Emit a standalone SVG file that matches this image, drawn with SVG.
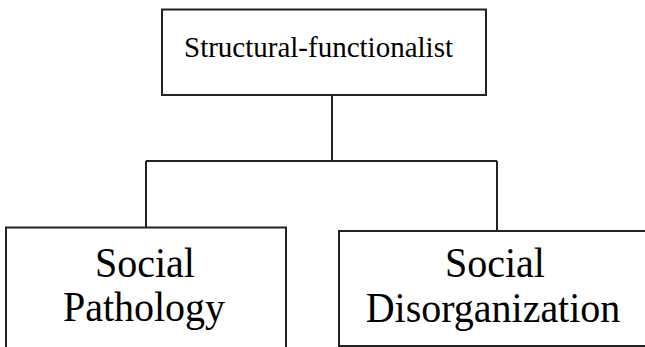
<svg xmlns="http://www.w3.org/2000/svg" width="645" height="347" viewBox="0 0 645 347">
<style>
.box{fill:#fff;stroke:#222;stroke-width:2}
.conn{fill:none;stroke:#222;stroke-width:2}
.t{font-family:"Liberation Serif","Times New Roman",serif;fill:#000}
.big{font-size:40px;text-anchor:middle}
</style>
<rect width="645" height="347" fill="#fff"/>
<g id="connectors">
<path class="conn" d="M332 95V161M146 161H497M146 161V227.5M497 161V231"/>
</g>
<g id="root">
<rect class="box" x="162" y="9.5" width="324" height="85.5"/>
<text class="t" x="184" y="57" font-size="29">Structural-functionalist</text>
</g>
<g id="pathology">
<rect class="box" x="6" y="227.5" width="280" height="130"/>
<text class="t big" x="145" y="0" transform="translate(0 277) scale(1 1.06)">Social</text>
<text class="t big" x="144" y="0" transform="translate(0 321) scale(1 1.06)">Pathology</text>
</g>
<g id="disorganization">
<rect class="box" x="339" y="231" width="320" height="115"/>
<text class="t big" x="495" y="0" transform="translate(0 277) scale(1 1.06)">Social</text>
<text class="t big" x="493" y="0" transform="translate(0 322) scale(1 1.06)">Disorganization</text>
</g>
</svg>
